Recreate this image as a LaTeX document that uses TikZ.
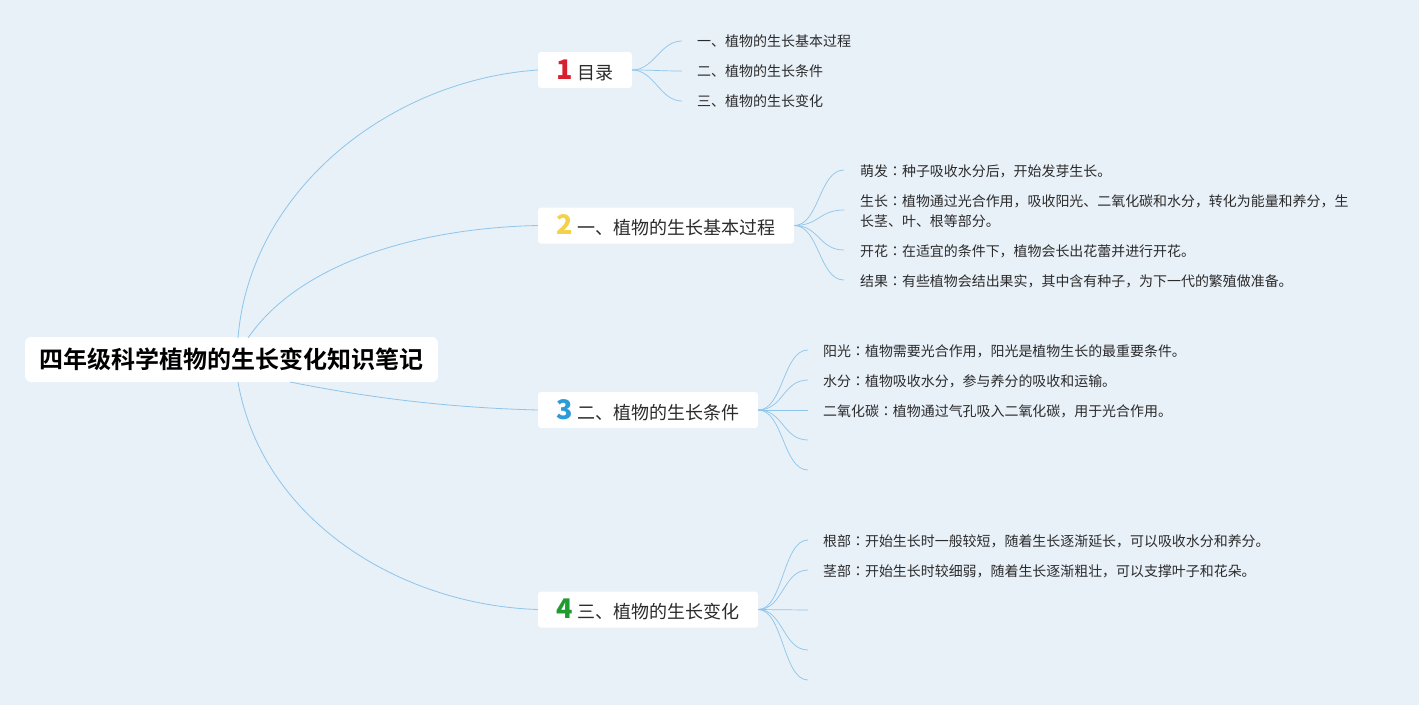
\documentclass[tikz,border=0pt]{standalone}
\usepackage{fontspec}
\setmainfont{Noto Sans CJK SC}[BoldFont={Noto Sans CJK SC Bold}]
\newfontfamily\jpfont{Noto Sans CJK JP}
\newfontfamily\numfont{Noto Sans CJK SC Black}
\definecolor{bg}{HTML}{E8F0F8}
\definecolor{ln}{HTML}{8EC5EA}
\definecolor{txt}{HTML}{2B2B2B}
\definecolor{nred}{HTML}{D9202E}
\definecolor{nyel}{HTML}{F3D24B}
\definecolor{nblu}{HTML}{2C9BD9}
\definecolor{ngrn}{HTML}{1F9B2F}
\tikzset{
  rootbox/.style={fill=white, rounded corners=6pt, minimum width=413pt, minimum height=45pt, inner sep=0pt, text=black, font=\bfseries\fontsize{24}{26}\selectfont},
  branchbox/.style={fill=white, rounded corners=3pt, minimum height=36pt, inner sep=0pt, text=txt, font=\fontsize{18}{20}\selectfont},
  leaf/.style={anchor=west, inner sep=0pt, text=txt, font=\fontsize{13.95}{20}\selectfont, align=left},
  menuleaf/.style={anchor=west, inner sep=0pt, text=txt, font=\fontsize{14}{20}\selectfont},
  conn/.style={draw=ln, line width=0.8pt},
  sub/.style={draw=ln, line width=0.7pt},
}
\newcommand{\numa}[2]{{\numfont\fontsize{27}{27}\selectfont\color{#1}#2}\hspace{5pt}}
\newcommand{\cln}{{\jpfont ：}}
\begin{document}
\begin{tikzpicture}[x=1pt,y=-1pt]
\fill[bg] (0,0) rectangle (1419,705);
\useasboundingbox (0,0) rectangle (1419,705);

% root
\node[rootbox] (root) at (231.5,359.5) {四年级科学植物的生长变化知识笔记};

% branches
\node[branchbox, minimum width=94pt] (b1) at (585,70) {\numa{nred}{1}目录};
\node[branchbox, minimum width=256pt] (b2) at (666,225.5) {\numa{nyel}{2}一、植物的生长基本过程};
\node[branchbox, minimum width=220pt] (b3) at (648,410) {\numa{nblu}{3}二、植物的生长条件};
\node[branchbox, minimum width=220pt] (b4) at (648,609.5) {\numa{ngrn}{4}三、植物的生长变化};

% root connectors
\coordinate (r1) at (238,338);
\coordinate (r2) at (248,338);
\coordinate (r3) at (290,382);
\coordinate (r4) at (238,382);
\draw[conn] (r1) .. controls (250,190) and (390,80) .. (b1.west);
\draw[conn] (r2) .. controls (300,262) and (420,228) .. (b2.west);
\draw[conn] (r3) .. controls (380,400) and (460,408) .. (b3.west);
\draw[conn] (r4) .. controls (262,520) and (400,605) .. (b4.west);

% branch 1 leaves
\node[menuleaf] (l11) at (697,41) {一、植物的生长基本过程};
\node[menuleaf] (l12) at (697,71) {二、植物的生长条件};
\node[menuleaf] (l13) at (697,101) {三、植物的生长变化};
\coordinate (e11) at (682,41);
\coordinate (e12) at (682,71);
\coordinate (e13) at (682,101);
\foreach \e in {e11,e12,e13}
  \draw[sub] (b1.east) .. controls +(22,0) and +(-22,0) .. (\e);

% branch 2 leaves
\node[leaf] (l21) at (860,171) {萌发\cln 种子吸收水分后，开始发芽生长。};
\node[leaf] (l22) at (860,211) {生长\cln 植物通过光合作用，吸收阳光、二氧化碳和水分，转化为能量和养分，生\\长茎、叶、根等部分。};
\node[leaf] (l23) at (860,251) {开花\cln 在适宜的条件下，植物会长出花蕾并进行开花。};
\node[leaf] (l24) at (860,281) {结果\cln 有些植物会结出果实，其中含有种子，为下一代的繁殖做准备。};
\coordinate (e21) at (844,170);
\coordinate (e22) at (844,210);
\coordinate (e23) at (844,250);
\coordinate (e24) at (844,280);
\foreach \e in {e21,e22,e23,e24}
  \draw[sub] (b2.east) .. controls +(25,0) and +(-25,0) .. (\e);

% branch 3 leaves
\node[leaf] (l31) at (823,351) {阳光\cln 植物需要光合作用，阳光是植物生长的最重要条件。};
\node[leaf] (l32) at (823,381) {水分\cln 植物吸收水分，参与养分的吸收和运输。};
\node[leaf] (l33) at (823,411) {二氧化碳\cln 植物通过气孔吸入二氧化碳，用于光合作用。};
\coordinate (e31) at (808,350);
\coordinate (e32) at (808,380);
\coordinate (e33) at (808,410);
\coordinate (e34) at (808,440);
\coordinate (e35) at (808,470);
\foreach \e in {e31,e32,e33,e34,e35}
  \draw[sub] (b3.east) .. controls +(25,0) and +(-25,0) .. (\e);

% branch 4 leaves
\node[leaf] (l41) at (823,541) {根部\cln 开始生长时一般较短，随着生长逐渐延长，可以吸收水分和养分。};
\node[leaf] (l42) at (823,571) {茎部\cln 开始生长时较细弱，随着生长逐渐粗壮，可以支撑叶子和花朵。};
\coordinate (e41) at (808,540);
\coordinate (e42) at (808,570);
\coordinate (e43) at (808,610);
\coordinate (e44) at (808,650);
\coordinate (e45) at (808,680);
\foreach \e in {e41,e42,e43,e44,e45}
  \draw[sub] (b4.east) .. controls +(25,0) and +(-25,0) .. (\e);
\end{tikzpicture}
\end{document}
